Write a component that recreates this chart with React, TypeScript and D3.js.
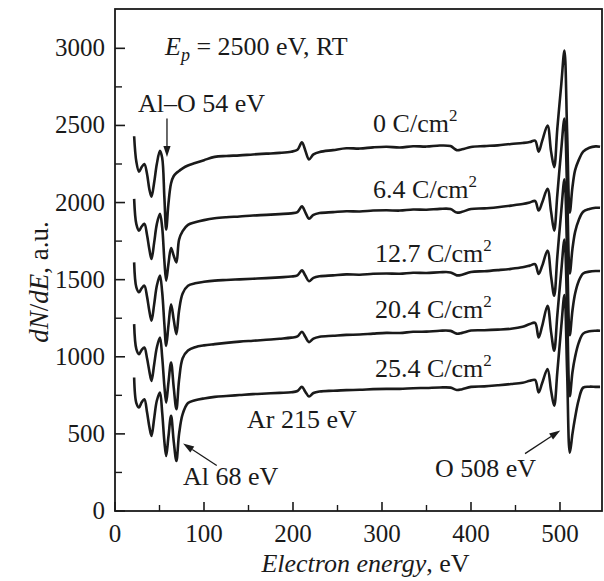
import React from "react";
import * as d3 from "d3";

// ---- data ----
const energy = [21.5, 24, 27, 30, 33, 36, 38.5, 41, 44, 47, 50.5, 53, 55.5, 57.5, 60, 63, 66, 69, 72, 76, 82, 90, 100, 112, 125, 140, 155, 170, 185, 198, 205, 210, 214, 218, 223, 230, 245, 260, 275, 290, 305, 320, 335, 350, 365, 377, 384, 390, 400, 415, 430, 445, 458, 466, 472, 476, 480, 486, 490, 493.5, 497, 501.5, 505, 508, 511, 514, 517, 521, 526, 533, 540, 545];

const dose0 = [2430, 2265, 2200, 2230, 2250, 2185, 2090, 2038, 2130, 2250, 2335, 2290, 2030, 1825, 1990, 2125, 2172, 2192, 2205, 2222, 2240, 2256, 2275, 2296, 2302, 2306, 2312, 2317, 2322, 2330, 2342, 2390, 2335, 2280, 2312, 2328, 2340, 2352, 2350, 2358, 2362, 2357, 2365, 2363, 2370, 2366, 2340, 2345, 2360, 2366, 2371, 2380, 2386, 2392, 2402, 2330, 2400, 2500, 2330, 2230, 2480, 2770, 2985, 2460, 1935, 2100, 2210, 2275, 2330, 2355, 2364, 2362];

const dose64 = [2024, 1860, 1818, 1845, 1862, 1790, 1700, 1634, 1740, 1860, 1927, 1840, 1620, 1494, 1600, 1705, 1655, 1612, 1760, 1815, 1855, 1872, 1886, 1898, 1905, 1910, 1916, 1920, 1925, 1930, 1938, 1975, 1935, 1895, 1920, 1932, 1938, 1944, 1942, 1948, 1950, 1948, 1955, 1953, 1959, 1958, 1935, 1940, 1958, 1962, 1970, 1980, 1990, 2000, 2010, 1948, 2000, 2089, 1940, 1818, 2050, 2350, 2545, 2080, 1540, 1700, 1810, 1885, 1940, 1958, 1966, 1966];

const dose127 = [1612, 1450, 1418, 1445, 1461, 1390, 1300, 1234, 1340, 1460, 1526, 1420, 1210, 1071, 1200, 1340, 1240, 1147, 1300, 1410, 1460, 1476, 1486, 1494, 1498, 1502, 1506, 1510, 1515, 1520, 1528, 1560, 1525, 1490, 1512, 1522, 1528, 1534, 1532, 1538, 1540, 1538, 1545, 1543, 1548, 1547, 1528, 1532, 1550, 1555, 1562, 1570, 1580, 1591, 1600, 1537, 1590, 1688, 1520, 1396, 1650, 1950, 2150, 1680, 1140, 1300, 1410, 1490, 1540, 1552, 1556, 1556];

const dose204 = [1212, 1050, 1017, 1045, 1060, 990, 910, 844, 950, 1060, 1125, 1000, 810, 703, 830, 963, 800, 660, 850, 990, 1040, 1062, 1074, 1082, 1090, 1098, 1104, 1110, 1117, 1124, 1132, 1162, 1128, 1095, 1118, 1130, 1136, 1142, 1144, 1150, 1155, 1154, 1162, 1163, 1169, 1168, 1150, 1155, 1170, 1172, 1176, 1182, 1195, 1212, 1220, 1125, 1200, 1331, 1160, 1039, 1270, 1560, 1760, 1300, 745, 900, 1000, 1090, 1150, 1165, 1169, 1169];

const dose254 = [866, 700, 671, 705, 725, 640, 550, 487, 600, 715, 768, 640, 450, 357, 480, 617, 450, 325, 500, 628, 700, 718, 730, 740, 746, 752, 758, 762, 766, 770, 778, 805, 772, 742, 765, 775, 780, 784, 786, 790, 792, 792, 796, 798, 801, 800, 785, 790, 805, 808, 815, 823, 832, 844, 850, 768, 830, 920, 780, 682, 900, 1200, 1400, 900, 378, 500, 606, 720, 800, 806, 805, 805];

const seriesValues = [dose0, dose64, dose127, dose204, dose254];
const doseLabels = ["0", "6.4", "12.7", "20.4", "25.4"];
// label anchor (energy, value) for each dose label
const doseLabelE = [290, 290, 292, 292, 292];
const doseLabelV = [2455, 2030, 1615, 1250, 868];

const xMajor = [0, 100, 200, 300, 400, 500];
const xMinor = [50, 150, 250, 350, 450];
const yMajor = [0, 500, 1000, 1500, 2000, 2500, 3000];
const yMinor = [250, 750, 1250, 1750, 2250, 2750];

const W = 604;
const H = 581;
const L = 115, R = 602, T = 9, B = 511;

const serif = "'Liberation Serif', 'Times New Roman', serif";

export default function App() {
  const x = d3.scaleLinear().domain([0, 547.2]).range([L, R]);
  const y = d3.scaleLinear().domain([0, 3255]).range([B, T]);

  const line = d3
    .line<[number, number]>()
    .x((d) => x(d[0]))
    .y((d) => y(d[1]))
    .curve(d3.curveCatmullRom.alpha(0.5));

  const arrow = (x1: number, y1: number, x2: number, y2: number, key: string) => {
    const ang = Math.atan2(y2 - y1, x2 - x1);
    const hl = 11, hw = 3.6;
    const bx = x2 - hl * Math.cos(ang);
    const by = y2 - hl * Math.sin(ang);
    const px = -Math.sin(ang) * hw;
    const py = Math.cos(ang) * hw;
    return (
      <g key={key}>
        <line x1={x1} y1={y1} x2={bx} y2={by} stroke="#1a1a1a" strokeWidth={1.3} />
        <path d={`M${x2},${y2}L${bx + px},${by + py}L${bx - px},${by - py}Z`} fill="#1a1a1a" />
      </g>
    );
  };

  return (
    <svg
      width={W}
      height={H}
      style={{ position: "absolute", left: 0, top: 0, background: "#fff" }}
      fontFamily={serif}
    >
      <rect x={0} y={0} width={W} height={H} fill="#fff" />
      {seriesValues.map((vals, i) => (
        <path
          key={i}
          d={line(energy.map((e, j) => [e, vals[j]] as [number, number])) || ""}
          fill="none"
          stroke="#1a1a1a"
          strokeWidth={2.6}
          strokeLinejoin="round"
        />
      ))}

      <rect x={L} y={T} width={R - L} height={B - T} fill="none" stroke="#1a1a1a" strokeWidth={1.8} />

      {xMajor.map((v) => (
        <g key={"xM" + v}>
          <line x1={x(v)} x2={x(v)} y1={B} y2={B - 9} stroke="#1a1a1a" strokeWidth={1.6} />
          <text x={x(v)} y={B + 31} fontSize={25} textAnchor="middle" fill="#1a1a1a">
            {v}
          </text>
        </g>
      ))}
      {xMinor.map((v) => (
        <line key={"xm" + v} x1={x(v)} x2={x(v)} y1={B} y2={B - 6} stroke="#1a1a1a" strokeWidth={1.4} />
      ))}

      {yMajor.map((v) => (
        <g key={"yM" + v}>
          <line x1={L} x2={L + 10} y1={y(v)} y2={y(v)} stroke="#1a1a1a" strokeWidth={1.6} />
          <text x={105} y={y(v) + 8} fontSize={25} textAnchor="end" fill="#1a1a1a">
            {v}
          </text>
        </g>
      ))}
      {yMinor.map((v) => (
        <line key={"ym" + v} x1={L} x2={L + 7} y1={y(v)} y2={y(v)} stroke="#1a1a1a" strokeWidth={1.4} />
      ))}

      <text x={(L + R) / 2 + 7} y={572} fontSize={26} textAnchor="middle" fill="#1a1a1a">
        <tspan fontStyle="italic">Electron energy</tspan>
        <tspan>, eV</tspan>
      </text>
      <text
        transform={`translate(48, 282) rotate(-90)`}
        fontSize={27}
        textAnchor="middle"
        fill="#1a1a1a"
      >
        <tspan fontStyle="italic">dN</tspan>
        <tspan>/</tspan>
        <tspan fontStyle="italic">dE</tspan>
        <tspan>, a.u.</tspan>
      </text>

      <text x={165} y={55} fontSize={26} fill="#1a1a1a">
        <tspan fontStyle="italic">E</tspan>
        <tspan fontStyle="italic" fontSize={18} dy={6}>p</tspan>
        <tspan dy={-6}> = 2500 eV, RT</tspan>
      </text>

      {doseLabels.map((lab, i) => (
        <text key={"dl" + i} x={x(doseLabelE[i])} y={y(doseLabelV[i])} fontSize={26} fill="#1a1a1a">
          <tspan>{lab} C/cm</tspan>
          <tspan fontSize={17} dy={-11}>2</tspan>
        </text>
      ))}

      <text x={138} y={112} fontSize={26} fill="#1a1a1a">Al–O 54 eV</text>
      {arrow(x(58.4), y(2545), x(58.4), y(2295), "a1")}

      <text x={247} y={428} fontSize={26} fill="#1a1a1a">Ar 215 eV</text>

      <text x={183} y={485} fontSize={26} fill="#1a1a1a">Al 68 eV</text>
      {arrow(x(114.3), y(295), x(76.5), y(438), "a2")}

      <text x={435} y={477} fontSize={26} fill="#1a1a1a">O 508 eV</text>
      {arrow(x(460.7), y(372), x(500.3), y(522), "a3")}
    </svg>
  );
}
